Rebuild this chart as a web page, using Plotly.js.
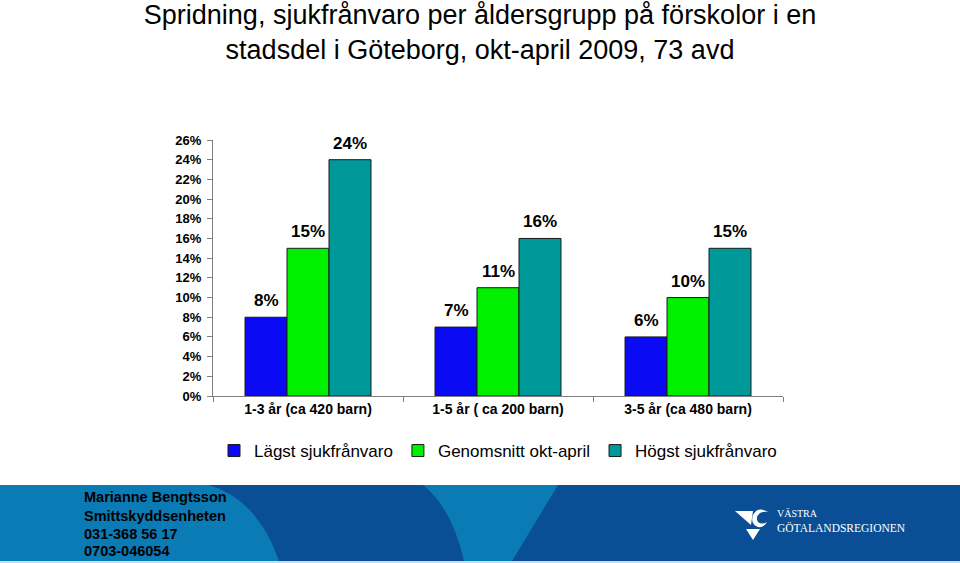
<!DOCTYPE html>
<html>
<head>
<meta charset="utf-8">
<script src="https://cdn.plot.ly/plotly-3.0.1.min.js"></script>
<style>html,body{margin:0;padding:0;background:#fff;}#chart{width:960px;height:563px;}</style>
</head>
<body>
<div id="chart"></div>
<script>
// ---- data ----
const categories = ["1-3 år (ca 420 barn)", "1-5 år ( ca 200 barn)", "3-5 år (ca 480 barn)"];
const seriesNames = ["Lägst sjukfrånvaro", "Genomsnitt okt-april", "Högst sjukfrånvaro"];
const lowest = [0.08, 0.07, 0.06];
const average = [0.15, 0.11, 0.10];
const highest = [0.24, 0.16, 0.15];
const labelsLowest = ["8%", "7%", "6%"];
const labelsAverage = ["15%", "11%", "10%"];
const labelsHighest = ["24%", "16%", "15%"];
const yTickVals = [0,0.02,0.04,0.06,0.08,0.10,0.12,0.14,0.16,0.18,0.20,0.22,0.24,0.26];
const footerLines = ["Marianne Bengtsson", "Smittskyddsenheten", "031-368 56 17", "0703-046054"];
const titleText = "Spridning, sjukfrånvaro per åldersgrupp på förskolor i en<br>stadsdel i Göteborg, okt-april 2009, 73 avd";

// ---- layout helpers (pixel -> paper) ----
const L = 213, R = 783, T = 140, B = 396;
const px = x => (x - L) / (R - L);
const py = y => (B - y) / (B - T);

const colors = ["#0a0af5", "#00f000", "#009999"];
const series = [lowest, average, highest];
const seriesLabels = [labelsLowest, labelsAverage, labelsHighest];

const traces = series.map((vals, i) => ({
  type: "bar",
  name: seriesNames[i],
  x: categories,
  y: vals,
  marker: {color: colors[i], line: {color: "#1a1a1a", width: 1}},
  hoverinfo: "skip"
}));

const annotations = [];
series.forEach((vals, i) => {
  vals.forEach((v, j) => {
    annotations.push({
      x: categories[j], y: v, xref: "x", yref: "y",
      text: seriesLabels[i][j], showarrow: false,
      xshift: (i - 1) * 42, yanchor: "bottom", yshift: 5,
      font: {family: "Liberation Sans, Arial", size: 17, color: "#000", weight: "bold"}
    });
  });
});

// footer text
const footerY = [497, 515.5, 533.5, 551];
footerLines.forEach((t, k) => {
  annotations.push({
    x: px(82), y: py(footerY[k]), xref: "paper", yref: "paper",
    xanchor: "left", yanchor: "middle", showarrow: false, text: t,
    font: {family: "Liberation Sans, Arial", size: 14.5, color: "#000", weight: "bold"}
  });
});
// logo text
annotations.push({x: px(775), y: py(513), xref: "paper", yref: "paper", xanchor: "left", yanchor: "middle",
  showarrow: false, text: "VÄSTRA", font: {family: "Liberation Serif, serif", size: 10, color: "#fff"}});
annotations.push({x: px(775), y: py(527), xref: "paper", yref: "paper", xanchor: "left", yanchor: "middle",
  showarrow: false, text: "GÖTALANDSREGIONEN", font: {family: "Liberation Serif, serif", size: 11.5, color: "#fff"}});

const P = (x, y) => px(x) + "," + py(y);

const dark = "#0a4f96", light = "#0b7bb5";
const shapes = [
  {type: "rect", xref: "paper", yref: "paper", x0: px(0), x1: px(960), y0: py(485), y1: py(561),
   fillcolor: dark, line: {width: 0}, layer: "above"},
  {type: "path", xref: "paper", yref: "paper", layer: "above", fillcolor: light, line: {width: 0},
   path: "M" + P(0,485) + " L" + P(209,485) + " Q" + P(258,500) + " " + P(279,561) + " L" + P(0,561) + " Z"},
  {type: "path", xref: "paper", yref: "paper", layer: "above", fillcolor: light, line: {width: 0},
   path: "M" + P(423,485) + " L" + P(558,485) + " L" + P(512,561) + " L" + P(464,561) + " Q" + P(452,508) + " " + P(423,485) + " Z"},
  {type: "rect", xref: "paper", yref: "paper", x0: px(0), x1: px(960), y0: py(561), y1: py(563),
   fillcolor: "#c9dce9", line: {width: 0}, layer: "above"},
  // logo
  {type: "path", xref: "paper", yref: "paper", layer: "above", fillcolor: "#fff", line: {width: 0},
   path: "M" + P(735,511) + " L" + P(753,511) + " L" + P(751,525) + " Z"},
  {type: "path", xref: "paper", yref: "paper", layer: "above", fillcolor: "#fff", line: {width: 0},
   path: "M" + P(768,512) + " Q" + P(758,506) + " " + P(753,515) + " Q" + P(750,524) + " " + P(758,527) +
         " Q" + P(764,528) + " " + P(767,522) + " Q" + P(762,525) + " " + P(758,522) + " Q" + P(755,517) + " " + P(760,513) +
         " Q" + P(764,511) + " " + P(768,512) + " Z"},
  {type: "path", xref: "paper", yref: "paper", layer: "above", fillcolor: "#fff", line: {width: 0},
   path: "M" + P(746,529) + " L" + P(760,529) + " L" + P(753,540) + " Z"}
];

const layout = {
  width: 960, height: 563,
  margin: {l: L, r: 960 - R, t: T, b: 563 - B, pad: 0},
  paper_bgcolor: "#fff", plot_bgcolor: "#fff",
  font: {family: "Liberation Sans, Arial", color: "#000"},
  title: {
    text: titleText, xref: "container", x: 0.5, xanchor: "center",
    yref: "container", y: 0.957, yanchor: "top",
    font: {family: "Liberation Sans, Arial", size: 27, color: "#000"}
  },
  barmode: "group", bargap: 0.337, bargroupgap: 0,
  showlegend: true,
  legend: {orientation: "h", x: 0.5, xanchor: "center", y: py(451), yanchor: "middle",
    font: {family: "Liberation Sans, Arial", size: 17, color: "#000"}, itemwidth: 30,
    tracegroupgap: 0, bgcolor: "rgba(0,0,0,0)"},
  xaxis: {
    type: "category", tickson: "boundaries", ticks: "outside", ticklen: 5, tickcolor: "#808080",
    showline: true, linecolor: "#808080", linewidth: 1, showgrid: false, zeroline: false,
    tickfont: {family: "Liberation Sans, Arial", size: 14, color: "#000", weight: "bold"},
    fixedrange: true
  },
  yaxis: {
    range: [0, 0.26], tickvals: yTickVals, tickformat: ".0%", ticks: "outside", ticklen: 5,
    tickcolor: "#808080", showline: true, linecolor: "#808080", linewidth: 1,
    showgrid: false, zeroline: false, ticklabelstandoff: 3,
    tickfont: {family: "Liberation Sans, Arial", size: 13, color: "#000", weight: "bold"},
    fixedrange: true
  },
  annotations: annotations,
  shapes: shapes
};

Plotly.newPlot("chart", traces, layout, {displayModeBar: false, staticPlot: true});
</script>
</body>
</html>
